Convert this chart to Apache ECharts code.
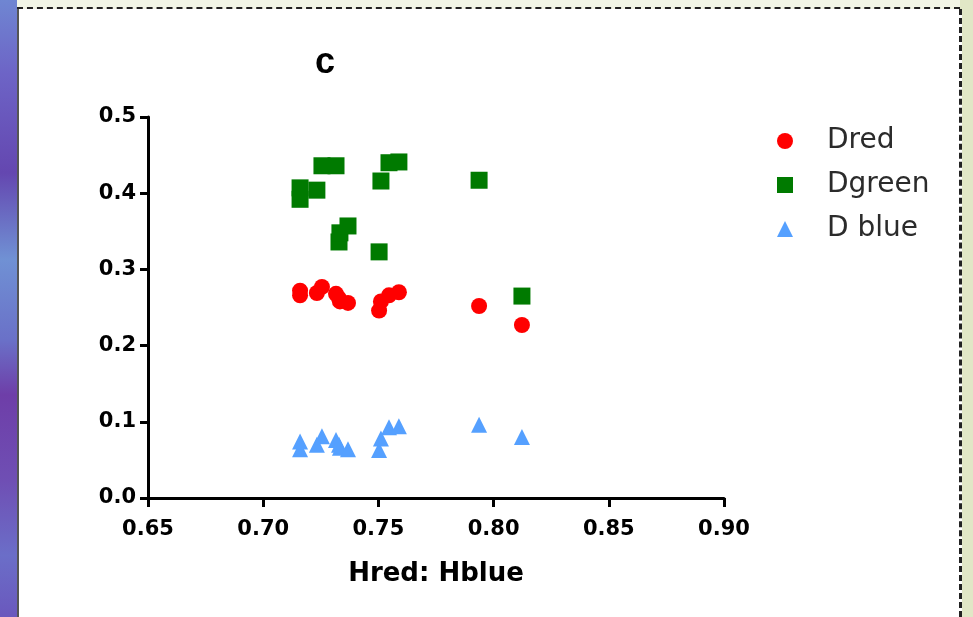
<!DOCTYPE html>
<html>
<head>
<meta charset="utf-8">
<script src="https://cdn.jsdelivr.net/npm/echarts@6/dist/echarts.min.js"></script>
<style>
  html, body { margin: 0; padding: 0; }
  body { width: 973px; height: 617px; position: relative; overflow: hidden; background: #e1e7c6; }
  #left { position: absolute; left: 0; top: 0; width: 17px; height: 617px;
    background: linear-gradient(180deg, #6f86d2 0%, #6d64c6 12%, #6447b0 28%, #7091d4 42%, #6a71c8 55%, #6e3ea8 64%, #6f4fb4 78%, #6b6ec8 90%, #6a58bd 100%); }
  #top { position: absolute; left: 17px; top: 0; width: 943px; height: 7px; background: #f2f5e6;
    border-bottom: 2px dashed #222; }
  #panel { position: absolute; left: 17px; top: 9px; width: 940px; height: 608px; background: #fff;
    border-left: 2px solid #555; border-right: 3px dashed #222; }
  #main { position: absolute; left: 0; top: 0; width: 973px; height: 617px; }
</style>
</head>
<body>
<div id="left"></div>
<div id="top"></div>
<div id="panel"></div>
<div id="main"></div>
<script>
  // 横坐标 Hred: Hblue
  var xVals = [0.716, 0.716, 0.7233, 0.7255, 0.7316, 0.7329, 0.7333, 0.7368, 0.7503, 0.7511, 0.7546, 0.7589, 0.7937, 0.8123];
  var dred = [0.272, 0.266, 0.269, 0.277, 0.268, 0.262, 0.258, 0.256, 0.246, 0.258, 0.266, 0.270, 0.252, 0.227];
  var dgreen = [0.407, 0.392, 0.404, 0.436, 0.436, 0.336, 0.348, 0.357, 0.323, 0.416, 0.440, 0.441, 0.417, 0.265];
  var dblue = [0.064, 0.074, 0.070, 0.081, 0.076, 0.070, 0.066, 0.064, 0.063, 0.078, 0.093, 0.094, 0.096, 0.080];
  var xTicks = ["0.65", "0.70", "0.75", "0.80", "0.85", "0.90"];
  var yTicks = ["0.0", "0.1", "0.2", "0.3", "0.4", "0.5"];

  function pairs(ys) {
    return xVals.map(function (x, i) { return [x, ys[i]]; });
  }

  var myChart = echarts.init(document.getElementById("main"));
  var axisFont = { color: "#000", fontSize: 21, fontWeight: "bold", fontFamily: "DejaVu Sans, sans-serif" };

  myChart.setOption({
    animation: false,
    title: {
      text: "c",
      left: 310,
      top: 40,
      textStyle: { color: "#000", fontSize: 36, fontWeight: "bold", fontFamily: "Liberation Sans, Arial, sans-serif" }
    },
    legend: {
      orient: "vertical",
      left: 772,
      top: 122,
      itemGap: 16,
      itemWidth: 16,
      itemHeight: 16,
      data: [
        { name: "Dred", icon: "circle" },
        { name: "Dgreen", icon: "rect" },
        { name: "D blue", icon: "triangle" }
      ],
      textStyle: { color: "#2b2b2b", fontSize: 28, fontFamily: "DejaVu Sans, sans-serif", padding: [0, 0, 0, 29] }
    },
    grid: { left: 148, right: 249, top: 117, bottom: 119 },
    xAxis: {
      type: "value",
      min: 0.65,
      max: 0.9,
      interval: 0.05,
      name: "Hred: Hblue",
      nameLocation: "middle",
      nameGap: 63,
      nameTextStyle: { color: "#000", fontSize: 26, fontWeight: "bold", fontFamily: "DejaVu Sans, sans-serif" },
      splitLine: { show: false },
      axisLine: { onZero: false, lineStyle: { color: "#000", width: 3 } },
      axisTick: { show: true, length: 9, lineStyle: { color: "#000", width: 3 } },
      axisLabel: Object.assign({ margin: 21, formatter: function (v) {
        var i = Math.round((v - 0.65) / 0.05);
        return xTicks[i];
      } }, axisFont)
    },
    yAxis: {
      type: "value",
      min: 0,
      max: 0.5,
      interval: 0.1,
      splitLine: { show: false },
      axisLine: { show: true, lineStyle: { color: "#000", width: 3 } },
      axisTick: { show: true, length: 8, lineStyle: { color: "#000", width: 3 } },
      axisLabel: Object.assign({ margin: 12, formatter: function (v) {
        return yTicks[Math.round(v * 10)];
      } }, axisFont)
    },
    series: [
      {
        name: "Dred",
        type: "scatter",
        symbol: "circle",
        symbolSize: 16,
        data: pairs(dred),
        itemStyle: { color: "#ff0000", opacity: 1 }
      },
      {
        name: "Dgreen",
        type: "scatter",
        symbol: "rect",
        symbolSize: 17,
        data: pairs(dgreen),
        itemStyle: { color: "#007a00", opacity: 1 }
      },
      {
        name: "D blue",
        type: "scatter",
        symbol: "triangle",
        symbolSize: 16,
        data: pairs(dblue),
        itemStyle: { color: "#55a0ff", opacity: 1 }
      }
    ]
  });
</script>
</body>
</html>
